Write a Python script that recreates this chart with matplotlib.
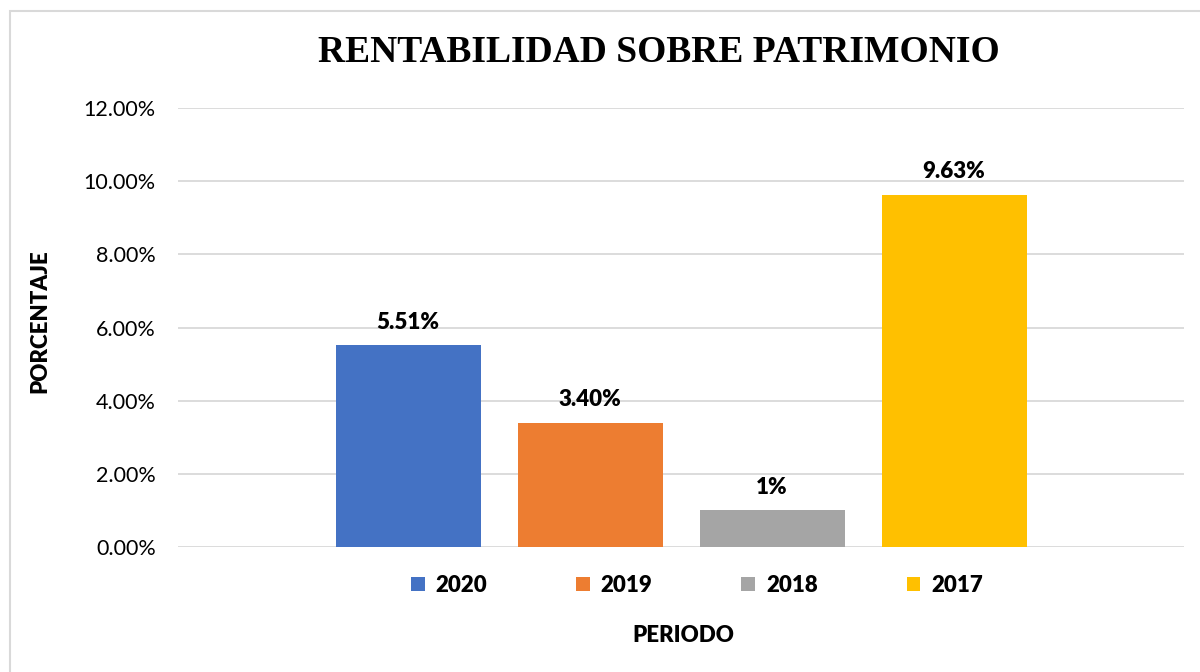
import matplotlib.pyplot as plt
from matplotlib.patches import Rectangle
from matplotlib.ticker import FuncFormatter

# Data
periods = ['2020', '2019', '2018', '2017']
values = [5.51, 3.40, 1.00, 9.63]
labels = ['5.51%', '3.40%', '1%', '9.63%']
colors = ['#4472C4', '#ED7D31', '#A5A5A5', '#FFC000']

plt.rcParams['font.family'] = ['Lato', 'DejaVu Sans']
BOLD = 'heavy'

fig = plt.figure(figsize=(12, 6.72), dpi=100)
ax = fig.add_axes([178 / 1200, 1 - 547 / 672, 1006 / 1200, 439 / 672])

# chart border
fig.patches.append(Rectangle((10 / 1200, -0.1), 1.2, 1.1 - 11 / 672,
                             transform=fig.transFigure, fill=False,
                             edgecolor='#d9d9d9', linewidth=1.5))

width = 145 / 1006
step = 182 / 1006
for i, (p, v, lab, c) in enumerate(zip(periods, values, labels, colors)):
    x = (i - 1.5) * step
    ax.bar(x, v, width=width, color=c, label=p, zorder=3)
    ax.text(x, v + 0.35, lab, ha='center', va='bottom',
            fontsize=16, fontweight=BOLD, color='#000000')

ax.set_xlim(-0.5, 0.5)
ax.set_ylim(0, 12)
ax.set_yticks([0, 2, 4, 6, 8, 10, 12])
ax.yaxis.set_major_formatter(FuncFormatter(lambda v, _: f'{v:.2f}%'))
ax.set_xticks([])
ax.grid(axis='y', color='#d9d9d9', linewidth=1.3, zorder=0)
for s in ax.spines.values():
    s.set_visible(False)
ax.tick_params(axis='y', length=0, pad=16, labelsize=15.5, labelcolor='#000000')

fig.text(40 / 1200, 1 - 321 / 672, 'PORCENTAJE', fontsize=16,
         fontweight=BOLD, rotation=90, ha='center', va='center')
fig.text(659 / 1200, 1 - 52 / 672, 'RENTABILIDAD SOBRE PATRIMONIO',
         family='Liberation Serif', fontsize=27, fontweight='bold',
         ha='center', va='center')
fig.text(683 / 1200, 1 - 635 / 672, 'PERIODO', fontsize=16,
         fontweight=BOLD, ha='center', va='center')

leg = ax.legend(loc='center', bbox_to_anchor=(697 / 1200, 1 - 585 / 672),
                bbox_transform=fig.transFigure, ncol=4, frameon=False,
                prop={'size': 16, 'weight': BOLD}, handlelength=0.6,
                handleheight=0.6, handletextpad=0.5, columnspacing=4.0)

fig.savefig('out.png', dpi=100)
